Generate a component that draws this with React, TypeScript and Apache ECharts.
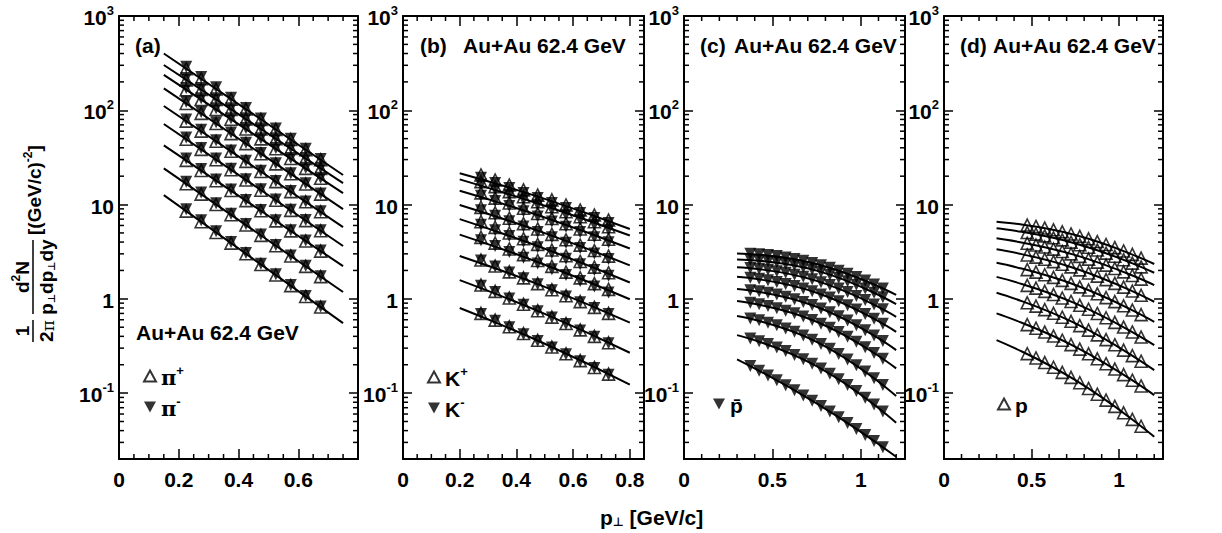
import React, { useEffect, useRef } from 'react';
import * as echarts from 'echarts';

// ---------------- data ----------------
const PT_PI = [0.225, 0.275, 0.325, 0.375, 0.425, 0.475, 0.525, 0.575, 0.625, 0.675];
const PI_PLUS = [
  [276, 216, 168, 131, 103, 80, 62.7, 49, 38.2, 29.9],
  [210, 166, 130, 102, 80.7, 63.2, 49.8, 39.3, 30.8, 24.2],
  [165, 130, 102, 80.4, 63.4, 49.7, 39.1, 30.8, 24.2, 19.0],
  [118, 92.7, 72.3, 56.6, 44.3, 34.6, 27.0, 21.2, 16.5, 12.9],
  [76.7, 60.1, 46.9, 36.7, 28.7, 22.4, 17.5, 13.7, 10.7, 8.39],
  [49.2, 38.5, 29.9, 23.4, 18.2, 14.2, 11.1, 8.67, 6.75, 5.27],
  [29.4, 23.0, 17.9, 14.1, 11.0, 8.59, 6.71, 5.26, 4.10, 3.21],
  [16.6, 12.9, 10.0, 7.80, 6.07, 4.71, 3.66, 2.85, 2.21, 1.72],
  [8.51, 6.58, 5.06, 3.90, 3.01, 2.31, 1.79, 1.38, 1.06, 0.818],
];
const PI_MINUS = [
  [290, 226, 175, 136, 106, 82, 64, 50, 39, 30.5],
  [220, 172, 134, 105, 82.5, 64.5, 50.5, 40, 31.2, 24.5],
  [172, 134, 105, 82.5, 65, 50.5, 39.8, 31.2, 24.5, 19.2],
  [123, 96, 74.5, 58, 45.2, 35.2, 27.5, 21.5, 16.8, 13.1],
  [80, 62, 48.2, 37.5, 29.2, 22.8, 17.8, 13.9, 10.8, 8.5],
  [51.5, 39.8, 30.8, 24, 18.6, 14.5, 11.3, 8.8, 6.85, 5.35],
  [30.8, 23.8, 18.4, 14.4, 11.2, 8.75, 6.82, 5.33, 4.15, 3.25],
  [17.4, 13.4, 10.3, 8.0, 6.2, 4.8, 3.72, 2.89, 2.24, 1.74],
  [8.9, 6.8, 5.2, 4.0, 3.07, 2.35, 1.82, 1.40, 1.07, 0.83],
];
const PI_FIT_PT = [0.15, 0.75];
const PI_FIT = [
  [400, 20.6], [302, 16.9], [237, 13.2], [171, 8.96], [111, 5.77],
  [71.5, 3.63], [42.5, 2.22], [24.2, 1.18], [12.6, 0.553],
];

const PT_K = [0.275, 0.325, 0.375, 0.425, 0.475, 0.525, 0.575, 0.625, 0.675, 0.725];
const K_PLUS = [
  [20.6, 18.2, 16.1, 14.3, 12.6, 11.2, 9.89, 8.75, 7.74, 6.85],
  [17.5, 15.5, 13.7, 12.1, 10.7, 9.48, 8.39, 7.43, 6.58, 5.82],
  [13.3, 11.7, 10.4, 9.12, 8.04, 7.10, 6.25, 5.51, 4.85, 4.28],
  [9.33, 8.18, 7.16, 6.28, 5.51, 4.83, 4.23, 3.71, 3.25, 2.84],
  [6.58, 5.73, 4.99, 4.34, 3.78, 3.29, 2.86, 2.49, 2.17, 1.89],
  [4.49, 3.90, 3.38, 2.94, 2.55, 2.21, 1.92, 1.67, 1.45, 1.26],
  [2.58, 2.23, 1.93, 1.67, 1.45, 1.25, 1.08, 0.935, 0.811, 0.701],
  [1.40, 1.20, 1.02, 0.875, 0.748, 0.640, 0.547, 0.468, 0.400, 0.342],
  [0.701, 0.594, 0.505, 0.428, 0.363, 0.308, 0.261, 0.221, 0.187, 0.159],
];
const K_MINUS = [
  [19.2, 16.9, 15.0, 13.3, 11.7, 10.4, 9.2, 8.14, 7.2, 6.37],
  [16.3, 14.4, 12.7, 11.3, 9.95, 8.82, 7.8, 6.91, 6.12, 5.41],
  [12.4, 10.9, 9.67, 8.48, 7.48, 6.6, 5.81, 5.12, 4.51, 3.98],
  [8.68, 7.61, 6.66, 5.84, 5.12, 4.49, 3.93, 3.45, 3.02, 2.64],
  [6.12, 5.33, 4.64, 4.04, 3.52, 3.06, 2.66, 2.32, 2.02, 1.76],
  [4.18, 3.63, 3.14, 2.73, 2.37, 2.06, 1.79, 1.55, 1.35, 1.17],
  [2.55, 2.2, 1.9, 1.65, 1.43, 1.23, 1.06, 0.92, 0.8, 0.69],
  [1.38, 1.18, 1.01, 0.865, 0.74, 0.632, 0.54, 0.462, 0.395, 0.338],
  [0.69, 0.585, 0.498, 0.422, 0.358, 0.304, 0.258, 0.218, 0.185, 0.157],
];
const K_FIT_PT = [0.2, 0.5, 0.8];
const K_FIT = [
  [21.5, 11.5, 5.5], [18.5, 9.7, 4.7], [14.0, 7.3, 3.42], [9.9, 4.98, 2.26], [7.0, 3.4, 1.49],
  [4.8, 2.3, 0.99], [2.85, 1.34, 0.56], [1.58, 0.692, 0.268], [0.80, 0.334, 0.123],
];

const PT_PBAR = [0.375, 0.425, 0.475, 0.525, 0.575, 0.625, 0.675, 0.725, 0.775, 0.825, 0.875, 0.925, 0.975, 1.025, 1.075, 1.125];
const PBAR = [
  [3.01, 2.97, 2.91, 2.84, 2.75, 2.64, 2.53, 2.40, 2.27, 2.13, 1.99, 1.85, 1.70, 1.56, 1.42, 1.29],
  [2.60, 2.56, 2.51, 2.44, 2.36, 2.27, 2.16, 2.05, 1.92, 1.80, 1.67, 1.54, 1.41, 1.29, 1.16, 1.04],
  [2.12, 2.08, 2.03, 1.96, 1.89, 1.80, 1.71, 1.61, 1.50, 1.40, 1.29, 1.18, 1.07, 0.970, 0.871, 0.777],
  [1.67, 1.63, 1.57, 1.51, 1.44, 1.37, 1.29, 1.20, 1.11, 1.03, 0.940, 0.856, 0.772, 0.691, 0.616, 0.544],
  [1.23, 1.20, 1.16, 1.11, 1.05, 0.989, 0.924, 0.858, 0.790, 0.722, 0.654, 0.589, 0.525, 0.464, 0.408, 0.356],
  [0.909, 0.877, 0.839, 0.796, 0.749, 0.701, 0.649, 0.598, 0.545, 0.494, 0.444, 0.396, 0.350, 0.307, 0.267, 0.231],
  [0.620, 0.591, 0.559, 0.523, 0.485, 0.447, 0.408, 0.369, 0.331, 0.295, 0.260, 0.227, 0.197, 0.169, 0.144, 0.122],
  [0.379, 0.355, 0.331, 0.305, 0.279, 0.254, 0.229, 0.205, 0.182, 0.160, 0.140, 0.122, 0.105, 0.0892, 0.0757, 0.0637],
  [0.194, 0.173, 0.154, 0.137, 0.121, 0.107, 0.0945, 0.0832, 0.0728, 0.0637, 0.0554, 0.0482, 0.0417, 0.0360, 0.0310, 0.0266],
];
const PT_P = [0.475, 0.525, 0.575, 0.625, 0.675, 0.725, 0.775, 0.825, 0.875, 0.925, 0.975, 1.025, 1.075, 1.125];
const PROTON = [
  [6.06, 5.86, 5.63, 5.40, 5.14, 4.88, 4.60, 4.33, 4.05, 3.77, 3.49, 3.22, 2.96, 2.70],
  [5.05, 4.86, 4.65, 4.44, 4.22, 3.99, 3.75, 3.52, 3.29, 3.05, 2.83, 2.60, 2.39, 2.18],
  [3.88, 3.72, 3.54, 3.37, 3.18, 3.00, 2.82, 2.64, 2.45, 2.28, 2.10, 1.93, 1.77, 1.62],
  [2.92, 2.77, 2.63, 2.48, 2.33, 2.18, 2.03, 1.88, 1.74, 1.60, 1.46, 1.33, 1.21, 1.09],
  [2.04, 1.92, 1.80, 1.69, 1.57, 1.46, 1.34, 1.24, 1.13, 1.03, 0.935, 0.844, 0.760, 0.680],
  [1.39, 1.30, 1.20, 1.11, 1.02, 0.938, 0.854, 0.775, 0.700, 0.630, 0.563, 0.502, 0.445, 0.393],
  [0.908, 0.837, 0.768, 0.702, 0.638, 0.578, 0.520, 0.466, 0.415, 0.369, 0.326, 0.286, 0.250, 0.218],
  [0.533, 0.488, 0.444, 0.403, 0.364, 0.327, 0.293, 0.261, 0.231, 0.205, 0.180, 0.157, 0.137, 0.119],
  [0.262, 0.236, 0.211, 0.188, 0.166, 0.147, 0.129, 0.112, 0.0974, 0.0842, 0.0723, 0.0618, 0.0526, 0.0445],
];
const BARYON_FIT_PT = [0.3, 0.75, 1.2];
const PBAR_FIT = [
  [3.03, 2.34, 1.10], [2.62, 1.99, 0.879], [2.16, 1.55, 0.645], [1.71, 1.16, 0.447], [1.27, 0.824, 0.286],
  [0.946, 0.571, 0.183], [0.656, 0.350, 0.0929], [0.412, 0.193, 0.0484], [0.228, 0.0778, 0.0211],
];
const P_FIT = [
  [6.57, 4.75, 2.34], [5.59, 3.87, 1.89], [4.38, 2.91, 1.40], [3.35, 2.10, 0.931], [2.41, 1.40, 0.571],
  [1.71, 0.895, 0.323], [1.16, 0.548, 0.175], [0.701, 0.310, 0.0952], [0.365, 0.137, 0.0344],
];

// tick labels
const Y_TICK_VALUES = [0.1, 1, 10, 100, 1000];
const Y_TICK_LABELS = ['{b|10}{s|-1}', '{b|1}', '{b|10}', '{b|10}{s|2}', '{b|10}{s|3}'];
const Y_MINOR = [
  0.03, 0.04, 0.05, 0.06, 0.07, 0.08, 0.09,
  0.2, 0.3, 0.4, 0.5, 0.6, 0.7, 0.8, 0.9,
  2, 3, 4, 5, 6, 7, 8, 9,
  20, 30, 40, 50, 60, 70, 80, 90,
  200, 300, 400, 500, 600, 700, 800, 900,
];
const X_LABELS_A = ['0', '0.2', '0.4', '0.6'];
const X_LABELS_B = ['0', '0.2', '0.4', '0.6', '0.8'];
const X_LABELS_CD = ['0', '0.5', '1'];
const X_MINOR_AB = [0.05, 0.1, 0.15, 0.25, 0.3, 0.35, 0.45, 0.5, 0.55, 0.65, 0.7, 0.75];
const X_MINOR_CD = [0.1, 0.2, 0.3, 0.4, 0.6, 0.7, 0.8, 0.9, 1.1, 1.2];

// ---------------- layout / style ----------------
const FONT = '"Liberation Sans", Arial, Helvetica, sans-serif';
const FS = 21;
const YMIN = 0.02;
const YMAX = 1000;
const GRID_TOP = 16;
const GRID_H = 443;
const PANELS = [
  { left: 119, width: 239, xmax: 0.8, xint: 0.2, labels: X_LABELS_A, minor: X_MINOR_AB },
  { left: 403, width: 241, xmax: 0.85, xint: 0.2, labels: X_LABELS_B, minor: X_MINOR_AB },
  { left: 684, width: 221, xmax: 1.25, xint: 0.5, labels: X_LABELS_CD, minor: X_MINOR_CD },
  { left: 944, width: 219, xmax: 1.25, xint: 0.5, labels: X_LABELS_CD, minor: X_MINOR_CD },
];
const DOWN_TRI = 'path://M0,0L20,0L10,18Z';
const UP_TRI_OPEN = 'triangle';

const RICH: any = {
  b: { fontSize: FS, fontWeight: 'bold', fontFamily: FONT, color: '#000', lineHeight: 24, verticalAlign: 'bottom' },
  s: { fontSize: 13, fontWeight: 'bold', fontFamily: FONT, color: '#000', lineHeight: 13, verticalAlign: 'top' },
  u: { fontSize: 12, fontWeight: 'bold', fontFamily: '"DejaVu Sans", sans-serif', color: '#000', lineHeight: 12, verticalAlign: 'bottom' },
  g: { fontSize: FS, fontFamily: '"DejaVu Serif", serif', color: '#000', lineHeight: 24, verticalAlign: 'bottom' },
  tb: { fontSize: 19, fontWeight: 'bold', fontFamily: FONT, color: '#000', lineHeight: 22, verticalAlign: 'bottom' },
  ts: { fontSize: 12, fontWeight: 'bold', fontFamily: FONT, color: '#000', lineHeight: 12, verticalAlign: 'top' },
  tu: { fontSize: 10, fontWeight: 'bold', fontFamily: '"DejaVu Sans", sans-serif', color: '#000', lineHeight: 10, verticalAlign: 'bottom' },
  tg: { fontSize: 17, fontFamily: '"DejaVu Serif", serif', color: '#000', lineHeight: 22, verticalAlign: 'bottom' },
};

function rowsToPoints(pts: number[], rows: number[][]) {
  const out: number[][] = [];
  rows.forEach((r) => r.forEach((v, i) => out.push([pts[i], v])));
  return out;
}

function fitSeries(axis: number, pts: number[], rows: number[][]) {
  return rows.map((r) => ({
    type: 'line',
    xAxisIndex: axis,
    yAxisIndex: axis,
    data: r.map((v, k) => [pts[k], v]),
    symbol: 'none',
    smooth: pts.length > 2 ? 0.5 : false,
    lineStyle: { color: '#000', width: 2 },
    silent: true,
    z: 2,
  }));
}

function openTri(axis: number, name: string, pts: number[], rows: number[][]) {
  return {
    type: 'scatter', name, xAxisIndex: axis, yAxisIndex: axis,
    data: rowsToPoints(pts, rows),
    symbol: UP_TRI_OPEN, symbolSize: 12,
    itemStyle: { color: 'rgba(255,255,255,0)', borderColor: '#000', borderWidth: 1.6 },
    z: 3, silent: true,
  };
}
function fullTri(axis: number, name: string, pts: number[], rows: number[][]) {
  return {
    type: 'scatter', name, xAxisIndex: axis, yAxisIndex: axis,
    data: rowsToPoints(pts, rows),
    symbol: 'triangle', symbolSize: 12, symbolRotate: 180,
    itemStyle: { color: '#000' },
    z: 4, silent: true,
  };
}

function tickSeries(i: number) {
  const p = PANELS[i];
  const st = { stroke: '#000', lineWidth: 1.5 };
  return [
    {
      type: 'custom', xAxisIndex: 2 * i, yAxisIndex: 2 * i, silent: true, z: 6,
      data: Y_MINOR.map((v) => [0, v]),
      renderItem: (_: any, api: any) => {
        const v = api.value(1);
        const a = api.coord([0, v]);
        const b = api.coord([p.xmax, v]);
        return {
          type: 'group', children: [
            { type: 'line', shape: { x1: a[0], y1: a[1], x2: a[0] + 5, y2: a[1] }, style: st },
            { type: 'line', shape: { x1: b[0] - 5, y1: b[1], x2: b[0], y2: b[1] }, style: st },
          ],
        };
      },
    },
    {
      type: 'custom', xAxisIndex: 2 * i, yAxisIndex: 2 * i, silent: true, z: 6,
      data: p.minor.map((v) => [v, YMIN]),
      renderItem: (_: any, api: any) => {
        const v = api.value(0);
        const a = api.coord([v, YMIN]);
        const b = api.coord([v, YMAX]);
        return {
          type: 'group', children: [
            { type: 'line', shape: { x1: a[0], y1: a[1], x2: a[0], y2: a[1] - 5 }, style: st },
            { type: 'line', shape: { x1: b[0], y1: b[1], x2: b[0], y2: b[1] + 5 }, style: st },
          ],
        };
      },
    },
  ];
}

function buildOption() {
  const grid = PANELS.map((p) => ({ left: p.left, top: GRID_TOP, width: p.width, height: GRID_H, containLabel: false }));
  const axisLine = { show: true, onZero: false, lineStyle: { color: '#000', width: 2 } };
  const xAxis: any[] = [];
  const yAxis: any[] = [];
  PANELS.forEach((p, i) => {
    const common = {
      type: 'value', gridIndex: i, min: 0, max: p.xmax, interval: p.xint,
      axisLine, splitLine: { show: false },
      axisTick: { show: true, inside: true, length: 10, lineStyle: { color: '#000', width: 1.5 } },
    };
    xAxis.push({
      ...common, position: 'bottom',
      axisLabel: {
        show: true, margin: 10, color: '#000', fontSize: FS, fontWeight: 'bold', fontFamily: FONT,
        formatter: (v: number) => p.labels.find((l) => Math.abs(parseFloat(l) - v) < 1e-6) ?? '',
      },
    });
    xAxis.push({ ...common, position: 'top', axisLabel: { show: false } });
    const yCommon = {
      type: 'log', logBase: 10, gridIndex: i, min: YMIN, max: YMAX,
      axisLine, splitLine: { show: false },
      axisTick: { show: true, inside: true, length: 9, lineStyle: { color: '#000', width: 1.5 } },
    };
    yAxis.push({
      ...yCommon, position: 'left',
      axisLabel: {
        show: true, margin: 5, color: '#000', fontSize: FS, fontWeight: 'bold', fontFamily: FONT,
        rich: RICH,
        formatter: (v: number) => {
          const k = Y_TICK_VALUES.findIndex((t) => Math.abs(v / t - 1) < 1e-6);
          return k >= 0 ? Y_TICK_LABELS[k] : '';
        },
      },
    });
    yAxis.push({ ...yCommon, position: 'right', axisLabel: { show: false } });
  });

  const series: any[] = [
    ...fitSeries(0, PI_FIT_PT, PI_FIT),
    openTri(0, 'π+', PT_PI, PI_PLUS),
    fullTri(0, 'π-', PT_PI, PI_MINUS),
    ...fitSeries(2, K_FIT_PT, K_FIT),
    openTri(2, 'K+', PT_K, K_PLUS),
    fullTri(2, 'K-', PT_K, K_MINUS),
    ...fitSeries(4, BARYON_FIT_PT, PBAR_FIT),
    fullTri(4, 'pbar', PT_PBAR, PBAR),
    ...fitSeries(6, BARYON_FIT_PT, P_FIT),
    openTri(6, 'p', PT_P, PROTON),
    ...tickSeries(0), ...tickSeries(1), ...tickSeries(2), ...tickSeries(3),
  ];

  const legendNames: Record<string, string> = {
    'π+': '{g|π}{s|+}', 'π-': '{g|π}{s|-}', 'K+': '{b|K}{s|+}', 'K-': '{b|K}{s|-}',
    pbar: '{b|p\u0304}', p: '{b|p}',
  };
  const item = (name: string, down: boolean) => (down ? { name, icon: DOWN_TRI } : { name });
  const mkLegend = (data: any[], left: number, top: number) => ({
    data, left, top, orient: 'vertical', itemGap: 7, itemWidth: 12, itemHeight: 11, padding: 0,
    selectedMode: false,
    formatter: (n: string) => legendNames[n],
    textStyle: { fontSize: FS, fontWeight: 'bold', fontFamily: FONT, color: '#000', rich: RICH },
  });
  const legend = [
    mkLegend([item('π+', false), item('π-', true)], 143, 364),
    mkLegend([item('K+', false), item('K-', true)], 427, 365),
    mkLegend([item('pbar', true)], 713, 395),
    mkLegend([item('p', false)], 997, 395),
  ];

  const txt = (text: string, x: number, y: number) => ({
    type: 'text', x, y,
    style: { text, fill: '#000', font: `bold ${FS}px ${FONT}`, align: 'left', verticalAlign: 'middle' },
  });
  const line = { stroke: '#000', lineWidth: 1.5 };
  const graphic = [
    txt('(a)', 135, 45),
    txt('(b)', 420, 45), txt('Au+Au 62.4 GeV', 463, 45),
    txt('(c)', 700, 45), txt('Au+Au 62.4 GeV', 734, 45),
    txt('(d)', 960, 45), txt('Au+Au 62.4 GeV', 993, 45),
    txt('Au+Au 62.4 GeV', 136, 332),
    {
      type: 'text', x: 600, y: 516,
      style: { text: '{b|p}{u|⊥}{b| [GeV/c]}', rich: RICH, align: 'left', verticalAlign: 'middle' },
    },
    {
      type: 'group', x: 33, y: 342, rotation: Math.PI / 2,
      children: [
        { type: 'text', x: 11, y: -1, style: { text: '{tb|1}', rich: RICH, align: 'center', verticalAlign: 'bottom' } },
        { type: 'line', shape: { x1: 0, y1: 0, x2: 22, y2: 0 }, style: line },
        { type: 'text', x: 11, y: 1, style: { text: '{tb|2}{tg|π}', rich: RICH, align: 'center', verticalAlign: 'top' } },
        { type: 'line', shape: { x1: 28, y1: 0, x2: 102, y2: 0 }, style: line },
        { type: 'text', x: 65, y: -1, style: { text: '{tb|d}{ts|2}{tb|N}', rich: RICH, align: 'center', verticalAlign: 'bottom' } },
        { type: 'text', x: 65, y: 1, style: { text: '{tb|p}{tu|⊥}{tb|dp}{tu|⊥}{tb|dy}', rich: RICH, align: 'center', verticalAlign: 'top' } },
        { type: 'text', x: 107, y: 0, style: { text: '{tb|[(GeV/c)}{ts|-2}{tb|]}', rich: RICH, align: 'left', verticalAlign: 'middle' } },
      ],
    },
  ];

  return { animation: false, backgroundColor: '#fff', grid, xAxis, yAxis, series, legend, graphic };
}

export default function App() {
  const ref = useRef<HTMLDivElement>(null);
  useEffect(() => {
    if (!ref.current) return;
    const chart = echarts.init(ref.current, undefined, { renderer: 'svg' });
    chart.setOption(buildOption() as any);
    return () => chart.dispose();
  }, []);
  return <div ref={ref} style={{ position: 'absolute', left: 0, top: 0, width: 1222, height: 533 }} />;
}
